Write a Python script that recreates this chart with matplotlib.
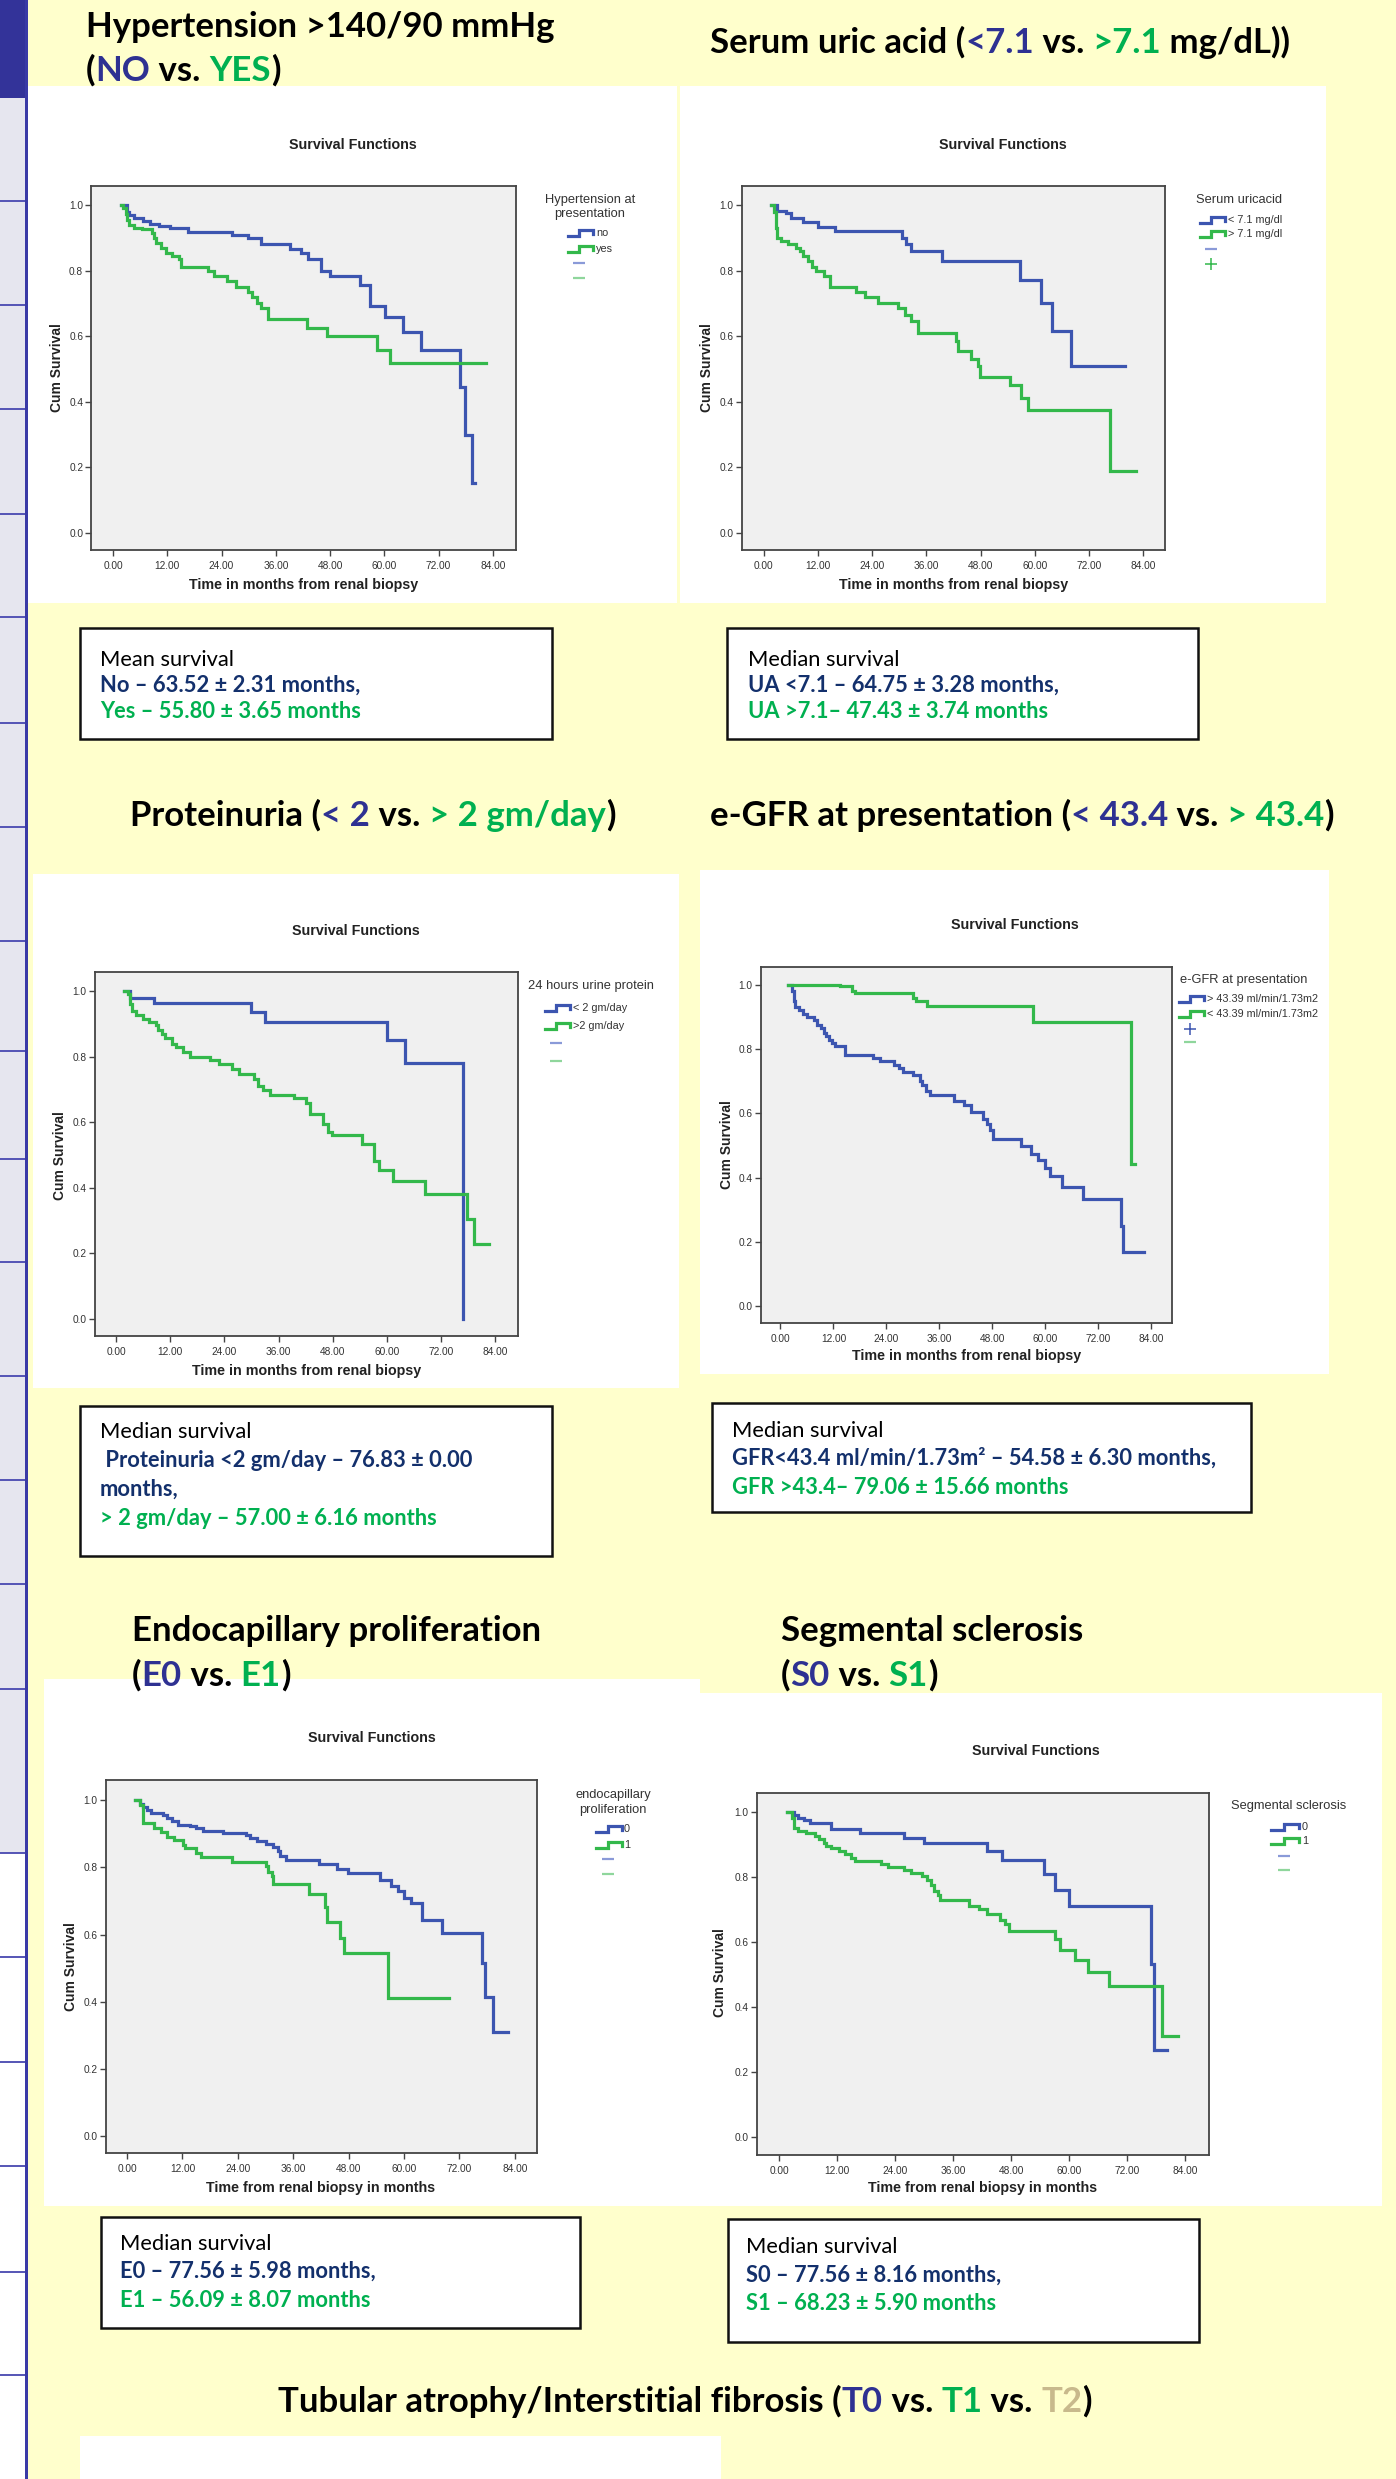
import matplotlib
matplotlib.use('Agg')
import matplotlib.pyplot as plt
from matplotlib.patches import Rectangle
from matplotlib.lines import Line2D

# ---------------- data ----------------
month_ticks = [0, 12, 24, 36, 48, 60, 72, 84]
month_tick_labels = ['0.00', '12.00', '24.00', '36.00', '48.00', '60.00', '72.00', '84.00']
surv_ticks = [0.0, 0.2, 0.4, 0.6, 0.8, 1.0]
surv_tick_labels = ['0.0', '0.2', '0.4', '0.6', '0.8', '1.0']

# Hypertension
htn_no_t = [1.7, 3.2, 3.6, 4.6, 6.6, 8.1, 10.1, 12.5, 16.5, 26.3, 29.8, 32.7, 39.2, 41.6, 43.1, 45.9,
            48.0, 54.7, 56.9, 60.1, 64.1, 68.2, 76.8, 77.8, 79.4, 80.1]
htn_no_s = [1.0, 0.98, 0.97, 0.96, 0.95, 0.943, 0.935, 0.93, 0.919, 0.91, 0.90, 0.88, 0.867, 0.853, 0.835,
            0.80, 0.784, 0.757, 0.693, 0.66, 0.614, 0.558, 0.446, 0.299, 0.152, 0.152]
htn_yes_t = [1.7, 2.2, 2.9, 3.2, 3.6, 4.6, 6.4, 8.6, 9.1, 9.6, 10.6, 11.7, 13.0, 14.5, 15.0, 20.9, 22.4,
             25.3, 27.3, 29.8, 30.8, 31.8, 32.7, 34.2, 42.9, 47.3, 58.4, 61.3, 82.5]
htn_yes_s = [1.0, 0.99, 0.973, 0.955, 0.94, 0.93, 0.928, 0.916, 0.90, 0.885, 0.87, 0.855, 0.845, 0.835,
             0.81, 0.80, 0.785, 0.768, 0.75, 0.735, 0.72, 0.70, 0.685, 0.652, 0.625, 0.60, 0.558, 0.517, 0.517]

# Serum uric acid
ua_lo_t = [1.7, 2.9, 4.9, 6.1, 8.8, 12.1, 15.9, 30.7, 31.5, 32.5, 39.4, 56.7, 61.3, 63.8, 68.1, 80.0]
ua_lo_s = [1.0, 0.983, 0.975, 0.96, 0.948, 0.933, 0.92, 0.90, 0.882, 0.86, 0.83, 0.77, 0.70, 0.615, 0.51, 0.51]
ua_hi_t = [1.7, 2.4, 2.7, 3.0, 3.9, 5.5, 7.1, 8.0, 8.8, 9.8, 10.6, 11.6, 13.3, 14.6, 20.4, 22.4, 25.4,
           29.8, 31.3, 32.5, 34.2, 42.6, 43.1, 45.9, 47.4, 47.9, 54.4, 57.0, 58.5, 76.6, 82.3]
ua_hi_s = [1.0, 0.98, 0.93, 0.90, 0.89, 0.88, 0.87, 0.86, 0.845, 0.83, 0.81, 0.80, 0.785, 0.75, 0.735,
           0.72, 0.70, 0.685, 0.665, 0.645, 0.61, 0.585, 0.555, 0.53, 0.51, 0.475, 0.45, 0.41, 0.375, 0.19, 0.19]

# Proteinuria
pr_lo_t = [1.8, 3.0, 8.4, 29.9, 32.9, 60.1, 64.0, 76.8]
pr_lo_s = [1.0, 0.98, 0.962, 0.935, 0.905, 0.85, 0.78, 0.0]
pr_hi_t = [1.8, 2.7, 3.0, 3.5, 4.4, 5.9, 7.4, 8.9, 9.4, 10.1, 10.9, 12.4, 13.3, 14.8, 16.3, 20.8, 22.7,
           25.7, 27.2, 30.6, 31.4, 32.6, 34.1, 39.3, 42.0, 43.0, 45.8, 46.9, 47.9, 54.5, 57.1, 58.3, 61.3,
           68.4, 77.7, 79.2, 82.5]
pr_hi_s = [1.0, 0.99, 0.96, 0.94, 0.928, 0.914, 0.905, 0.895, 0.88, 0.869, 0.857, 0.839, 0.83, 0.814,
           0.799, 0.789, 0.778, 0.762, 0.746, 0.731, 0.71, 0.697, 0.684, 0.673, 0.657, 0.626, 0.595, 0.571,
           0.561, 0.535, 0.483, 0.453, 0.42, 0.381, 0.306, 0.229, 0.229]

# e-GFR
gfr_a_t = [1.8, 2.6, 3.1, 3.4, 4.1, 5.0, 6.0, 7.6, 8.3, 9.1, 9.8, 10.3, 10.9, 11.7, 12.4, 14.7, 20.9,
           22.6, 25.7, 26.9, 27.7, 30.0, 31.6, 32.1, 32.9, 33.9, 39.3, 41.6, 43.2, 45.8, 46.8, 47.6, 48.1,
           54.6, 56.7, 58.4, 60.0, 61.2, 63.9, 68.5, 77.1, 77.6, 82.5]
gfr_a_s = [1.0, 0.98, 0.95, 0.932, 0.922, 0.911, 0.90, 0.89, 0.876, 0.865, 0.851, 0.841, 0.83, 0.818,
           0.811, 0.782, 0.772, 0.762, 0.751, 0.74, 0.73, 0.719, 0.702, 0.688, 0.67, 0.656, 0.64, 0.626,
           0.605, 0.584, 0.566, 0.549, 0.52, 0.497, 0.475, 0.455, 0.43, 0.405, 0.372, 0.334, 0.25, 0.167, 0.167]
gfr_b_t = [1.8, 13.4, 16.3, 16.8, 30.0, 30.7, 33.1, 57.2, 79.4, 80.4]
gfr_b_s = [1.0, 0.996, 0.98, 0.976, 0.96, 0.95, 0.936, 0.886, 0.441, 0.441]

# Endocapillary proliferation
e0_t = [1.7, 2.9, 3.4, 4.4, 5.3, 7.7, 8.7, 9.7, 11.1, 13.6, 15.0, 16.5, 20.8, 25.7, 26.6, 28.1, 30.0,
        31.7, 32.6, 33.2, 34.4, 41.6, 45.5, 47.9, 54.7, 57.1, 58.6, 60.0, 61.5, 64.0, 68.2, 76.8, 77.6,
        79.2, 82.6]
e0_s = [1.0, 0.99, 0.98, 0.97, 0.962, 0.956, 0.947, 0.937, 0.927, 0.922, 0.916, 0.909, 0.901, 0.896,
        0.888, 0.879, 0.869, 0.86, 0.848, 0.833, 0.823, 0.811, 0.795, 0.783, 0.762, 0.746, 0.731, 0.71,
        0.694, 0.644, 0.604, 0.515, 0.414, 0.311, 0.311]
e1_t = [1.7, 2.9, 3.4, 5.8, 7.3, 8.7, 10.2, 12.1, 12.6, 15.0, 16.0, 22.7, 30.0, 30.5, 31.5, 31.7, 39.4,
        42.9, 43.4, 46.2, 47.1, 56.5, 69.7]
e1_s = [1.0, 0.985, 0.932, 0.916, 0.906, 0.891, 0.881, 0.867, 0.858, 0.844, 0.832, 0.817, 0.805, 0.786,
        0.774, 0.751, 0.721, 0.681, 0.637, 0.589, 0.546, 0.41, 0.41]

# Segmental sclerosis
s0_t = [1.7, 3.1, 3.9, 5.2, 6.4, 10.7, 16.8, 25.8, 30.0, 42.9, 46.0, 54.8, 57.1, 60.0, 76.9, 77.6, 80.3]
s0_s = [1.0, 0.991, 0.981, 0.975, 0.966, 0.946, 0.935, 0.92, 0.904, 0.88, 0.851, 0.809, 0.761, 0.71,
        0.532, 0.268, 0.268]
s1_t = [1.7, 2.6, 3.1, 3.9, 5.5, 7.4, 8.3, 9.2, 9.7, 10.8, 12.5, 13.7, 14.9, 15.8, 21.0, 22.5, 25.8,
        27.2, 29.5, 30.5, 31.4, 32.1, 32.8, 33.3, 39.2, 41.3, 42.9, 45.6, 46.7, 47.6, 57.1, 58.0, 61.1,
        63.8, 68.2, 79.1, 82.4]
s1_s = [1.0, 0.98, 0.949, 0.94, 0.934, 0.926, 0.917, 0.904, 0.896, 0.888, 0.879, 0.87, 0.857, 0.85,
        0.839, 0.83, 0.822, 0.811, 0.803, 0.79, 0.775, 0.758, 0.743, 0.73, 0.712, 0.701, 0.685, 0.669,
        0.656, 0.634, 0.608, 0.576, 0.544, 0.507, 0.465, 0.311, 0.311]

# ---------------- style ----------------
W, H = 1396, 2479
BG = '#ffffcc'
LBLUE = '#3c55b0'
LGREEN = '#33b84b'
TBLUE = '#2e3192'
TGREEN = '#00b050'
TTAN = '#c8b98c'
NAVY = '#13306c'
K = 'black'
TFONT = ['Lato', 'DejaVu Sans']
CFONT = ['Liberation Sans', 'DejaVu Sans']

fig = plt.figure(figsize=(W / 100, H / 100), dpi=100)
fig.patch.set_facecolor(BG)
R = fig.canvas.get_renderer()


def fx(x):
    return x / W


def fy(y):
    return 1 - y / H


def rect(x0, y0, x1, y1, fc, ec='none', lw=0, z=-5):
    fig.add_artist(Rectangle((fx(x0), fy(y1)), (x1 - x0) / W, (y1 - y0) / H,
                             transform=fig.transFigure, facecolor=fc, edgecolor=ec,
                             linewidth=lw, zorder=z))


def hline(x0, x1, y, color, lw, z=2):
    fig.add_artist(Line2D([fx(x0), fx(x1)], [fy(y), fy(y)], transform=fig.transFigure,
                          color=color, lw=lw, zorder=z, solid_capstyle='butt'))


def text_w(s, size, weight, family):
    t = fig.text(0, 0, s + '|', fontsize=size, fontweight=weight, family=family)
    w1 = t.get_window_extent(R).width
    t.set_text('|')
    w2 = t.get_window_extent(R).width
    t.remove()
    return w1 - w2


def fit_size(s, target, weight, family, ref=20.0):
    return ref * target / text_w(s, ref, weight, family)


def rich(x, y, parts, size, weight='bold', family=TFONT, z=6):
    cx = x
    for s, c in parts:
        fig.text(fx(cx), fy(y), s, color=c, fontsize=size, fontweight=weight, family=family,
                 va='baseline', ha='left', zorder=z)
        cx += text_w(s, size, weight, family)


# ---------------- background decoration ----------------
rect(0, 0, 25, 1853, '#e6e6ef', z=-8)
rect(0, 1853, 25, H, 'white', z=-8)
rect(0, 0, 25, 98, '#333399', z=-7)
rect(25, 0, 27.5, H, '#3a3aa6', z=-6)
for yy in [201, 305, 409, 514, 617, 723, 827, 941, 1051, 1159, 1262, 1376, 1480, 1584, 1689, 1853,
           1957, 2062, 2166, 2272, 2375]:
    hline(0, 25, yy, '#4848b0', 1.3)

# white chart panels
for (x0, y0, x1, y1) in [(28, 86, 677, 603), (680, 86, 1326, 603), (33, 874, 679, 1388),
                         (700, 870, 1329, 1374), (44, 1679, 700, 2206), (700, 1693, 1382, 2206),
                         (80, 2436, 721, H)]:
    rect(x0, y0, x1, y1, 'white', z=-4)

# ---------------- titles ----------------
titles = [
    (86, 37, [("Hypertension >140/90 mmHg", K)], 455),
    (86, 81, [("(", K), ("NO", TBLUE), (" vs. ", K), ("YES", TGREEN), (")", K)], None),
    (710, 53, [("Serum uric acid (", K), ("<7.1", TBLUE), (" vs. ", K), (">7.1", TGREEN),
               (" mg/dL))", K)], 582),
    (130, 826, [("Proteinuria (", K), ("< 2", TBLUE), (" vs. ", K), ("> 2 gm/day", TGREEN), (")", K)], 484),
    (710, 826, [("e-GFR at presentation (", K), ("< 43.4", TBLUE), (" vs. ", K), ("> 43.4", TGREEN),
                (")", K)], 616),
    (132, 1641, [("Endocapillary proliferation", K)], 410),
    (132, 1686, [("(", K), ("E0", TBLUE), (" vs. ", K), ("E1", TGREEN), (")", K)], None),
    (781, 1641, [("Segmental sclerosis", K)], 303),
    (781, 1686, [("(", K), ("S0", TBLUE), (" vs. ", K), ("S1", TGREEN), (")", K)], None),
    (278, 2412, [("Tubular atrophy/Interstitial fibrosis (", K), ("T0", TBLUE), (" vs. ", K),
                 ("T1", TGREEN), (" vs. ", K), ("T2", TTAN), (")", K)], 808),
]
sizes = sorted(fit_size(''.join(p[0] for p in parts), tw, 'bold', TFONT)
               for (_, _, parts, tw) in titles if tw)
TSIZE = sizes[len(sizes) // 2]
for (x, y, parts, tw) in titles:
    rich(x, y, parts, TSIZE)

# ---------------- text boxes ----------------
boxes = [
    ((80, 628, 552, 739), 100, [("Mean survival", 'normal', K, 666, 134),
                                ("No – 63.52 ± 2.31 months,", 'bold', NAVY, 692, 259),
                                ("Yes – 55.80 ± 3.65 months", 'bold', TGREEN, 718, 257)]),
    ((727, 628, 1198, 739), 748, [("Median survival", 'normal', K, 666, 151),
                                  ("UA <7.1 – 64.75 ± 3.28 months,", 'bold', NAVY, 692, 306),
                                  ("UA >7.1– 47.43 ± 3.74 months", 'bold', TGREEN, 718, 295)]),
    ((80, 1406, 552, 1556), 100, [("Median survival", 'normal', K, 1438, 154),
                                  (" Proteinuria <2 gm/day – 76.83 ± 0.00", 'bold', NAVY, 1467, 375),
                                  ("months,", 'bold', NAVY, 1496, 81),
                                  ("> 2 gm/day – 57.00 ± 6.16 months", 'bold', TGREEN, 1525, 337)]),
    ((712, 1403, 1251, 1512), 732, [("Median survival", 'normal', K, 1437, 153),
                                    ("GFR<43.4 ml/min/1.73m² – 54.58 ± 6.30 months,", 'bold', NAVY, 1465, 485),
                                    ("GFR >43.4– 79.06 ± 15.66 months", 'bold', TGREEN, 1494, 331)]),
    ((101, 2217, 580, 2328), 120, [("Median survival", 'normal', K, 2250, 154),
                                   ("E0 – 77.56 ± 5.98 months,", 'bold', NAVY, 2278, 254),
                                   ("E1 – 56.09 ± 8.07 months", 'bold', TGREEN, 2307, 248)]),
    ((728, 2219, 1199, 2342), 746, [("Median survival", 'normal', K, 2253, 155),
                                    ("S0 – 77.56 ± 8.16 months,", 'bold', NAVY, 2282, 255),
                                    ("S1 – 68.23 ± 5.90 months", 'bold', TGREEN, 2310, 248)]),
]
bs = sorted(fit_size(s, tw, wt, TFONT) for (_, _, lines) in boxes for (s, wt, _, _, tw) in lines)
BSIZE = bs[len(bs) // 2]
for (bx, tx, lines) in boxes:
    rect(bx[0], bx[1], bx[2], bx[3], 'white', ec='#111111', lw=1.8, z=1)
    for (s, wt, c, yy, _) in lines:
        fig.text(fx(tx), fy(yy), s, color=c, fontsize=BSIZE, fontweight=wt, family=TFONT,
                 va='baseline', ha='left', zorder=6)

# ---------------- survival charts ----------------
panels = [
    dict(frame=(91.5, 186, 516, 550), xlim=(-4.75, 89.1), ylim=(-0.052, 1.058),
         curves=[(htn_no_t, htn_no_s, LBLUE), (htn_yes_t, htn_yes_s, LGREEN)],
         title=(353, 145), ylab=(57, 368), xlab=(304, 585), xlabel='Time in months from renal biopsy',
         leg_title=["Hypertension at", "presentation"], leg_tpos=(590, [200, 214], 'center'),
         leg_entries=[("no", 233), ("yes", 249)], icon=(568, 593, 596),
         marks=[('line', 579, 263, 0), ('line', 579, 278, 1)]),
    dict(frame=(742, 186, 1165, 550), xlim=(-4.78, 88.8), ylim=(-0.052, 1.058),
         curves=[(ua_lo_t, ua_lo_s, LBLUE), (ua_hi_t, ua_hi_s, LGREEN)],
         title=(1003, 145), ylab=(707, 368), xlab=(954, 585), xlabel='Time in months from renal biopsy',
         leg_title=["Serum uricacid"], leg_tpos=(1239, [200], 'center'),
         leg_entries=[("< 7.1 mg/dl", 220), ("> 7.1 mg/dl", 234)], icon=(1200, 1225, 1228),
         marks=[('line', 1211, 249, 0), ('plus', 1211, 264, 1)]),
    dict(frame=(95, 972, 518, 1336), xlim=(-4.65, 89.0), ylim=(-0.052, 1.058),
         curves=[(pr_lo_t, pr_lo_s, LBLUE), (pr_hi_t, pr_hi_s, LGREEN)],
         title=(356, 931), ylab=(60, 1156), xlab=(307, 1371), xlabel='Time in months from renal biopsy',
         leg_title=["24 hours urine protein"], leg_tpos=(528, [986], 'left'),
         leg_entries=[("< 2 gm/day", 1008), (">2 gm/day", 1026)], icon=(545, 570, 573),
         marks=[('line', 556, 1043, 0), ('line', 556, 1061, 1)]),
    dict(frame=(761, 967, 1172, 1323), xlim=(-4.42, 88.75), ylim=(-0.053, 1.056),
         curves=[(gfr_a_t, gfr_a_s, LBLUE), (gfr_b_t, gfr_b_s, LGREEN)],
         title=(1015, 925), ylab=(727, 1145), xlab=(967, 1356), xlabel='Time in months from renal biopsy',
         leg_title=["e-GFR at presentation"], leg_tpos=(1180, [980], 'left'),
         leg_entries=[("> 43.39 ml/min/1.73m2", 999), ("< 43.39 ml/min/1.73m2", 1014)],
         icon=(1179, 1204, 1207), marks=[('plus', 1190, 1029, 0), ('line', 1190, 1042, 1)]),
    dict(frame=(106, 1780, 537, 2153), xlim=(-4.55, 88.8), ylim=(-0.05, 1.06),
         curves=[(e0_t, e0_s, LBLUE), (e1_t, e1_s, LGREEN)],
         title=(372, 1738), ylab=(71, 1967), xlab=(321, 2188), xlabel='Time from renal biopsy in months',
         leg_title=["endocapillary", "proliferation"], leg_tpos=(613, [1795, 1810], 'center'),
         leg_entries=[("0", 1829), ("1", 1845)], icon=(596, 622, 624),
         marks=[('line', 608, 1859, 0), ('line', 608, 1874, 1)]),
    dict(frame=(757, 1793, 1209, 2155), xlim=(-4.55, 88.9), ylim=(-0.055, 1.058),
         curves=[(s0_t, s0_s, LBLUE), (s1_t, s1_s, LGREEN)],
         title=(1036, 1751), ylab=(720, 1973), xlab=(983, 2188), xlabel='Time from renal biopsy in months',
         leg_title=["Segmental sclerosis"], leg_tpos=(1289, [1806], 'center'),
         leg_entries=[("0", 1827), ("1", 1841)], icon=(1271, 1299, 1302),
         marks=[('line', 1284, 1856, 0), ('line', 1284, 1870, 1)]),
]

MARKC = ['#8a9ad8', '#8fd69c']
for p in panels:
    x0, y0, x1, y1 = p['frame']
    ax = fig.add_axes([fx(x0), fy(y1), (x1 - x0) / W, (y1 - y0) / H])
    ax.set_facecolor('#f0f0f0')
    for (t, s, c) in p['curves']:
        ax.step(t, s, where='post', color=c, lw=2.3, solid_joinstyle='miter')
    ax.set_xlim(*p['xlim'])
    ax.set_ylim(*p['ylim'])
    ax.set_xticks(month_ticks)
    ax.set_xticklabels(month_tick_labels, family=CFONT, fontsize=7.3, color='#333333')
    ax.set_yticks(surv_ticks)
    ax.set_yticklabels(surv_tick_labels, family=CFONT, fontsize=7.3, color='#333333')
    ax.tick_params(direction='out', length=4, width=1.0, color='#444444', pad=2)
    ax.tick_params(axis='x', pad=4)
    for sp in ax.spines.values():
        sp.set_color('#444444')
        sp.set_linewidth(1.3)
    tx, ty = p['title']
    fig.text(fx(tx), fy(ty), 'Survival Functions', family=CFONT, fontsize=10.3, fontweight='bold',
             ha='center', va='center', color='#222222')
    lx, ly = p['ylab']
    fig.text(fx(lx), fy(ly), 'Cum Survival', family=CFONT, fontsize=10, fontweight='bold',
             ha='center', va='center', rotation=90, color='#222222')
    lx, ly = p['xlab']
    fig.text(fx(lx), fy(ly), p['xlabel'], family=CFONT, fontsize=10.3, fontweight='bold',
             ha='center', va='center', color='#222222')
    # legend
    gx, gys, ha = p['leg_tpos']
    for s, gy in zip(p['leg_title'], gys):
        fig.text(fx(gx), fy(gy), s, family=CFONT, fontsize=9.3, ha=ha, va='center', color='#333333')
    ix0, ix1, itx = p['icon']
    for (lab, ey), (_, _, c) in zip(p['leg_entries'], p['curves']):
        xm = ix0 + 0.45 * (ix1 - ix0)
        fig.add_artist(Line2D([fx(ix0), fx(xm), fx(xm), fx(ix1), fx(ix1)],
                              [fy(ey + 3), fy(ey + 3), fy(ey - 3), fy(ey - 3), fy(ey + 1)],
                              transform=fig.transFigure, color=c, lw=2.3, solid_joinstyle='miter'))
        fig.text(fx(itx), fy(ey), lab, family=CFONT, fontsize=7.8, ha='left', va='center',
                 color='#333333')
    for (kind, mx, my, ci) in p['marks']:
        if kind == 'line':
            hline(mx - 6, mx + 6, my, MARKC[ci], 1.6)
        else:
            fig.add_artist(Line2D([fx(mx)], [fy(my)], transform=fig.transFigure, marker='+',
                                  markersize=9, markeredgewidth=1.1, color=[LBLUE, LGREEN][ci],
                                  linestyle='none'))

fig.savefig('out.png', dpi=100, facecolor=BG)
